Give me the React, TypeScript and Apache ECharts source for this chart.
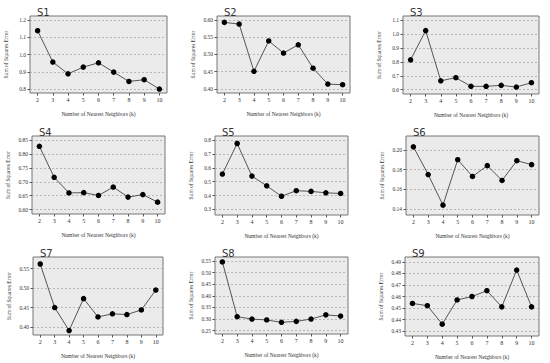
import React, { useEffect, useRef } from "react";
import * as echarts from "echarts";

const categories = ["2", "3", "4", "5", "6", "7", "8", "9", "10"];

const titles = ["S1", "S2", "S3", "S4", "S5", "S6", "S7", "S8", "S9"];

const s1 = [1.138, 0.956, 0.888, 0.927, 0.952, 0.898, 0.844, 0.854, 0.8];
const s2 = [0.593, 0.588, 0.451, 0.539, 0.504, 0.528, 0.46, 0.414, 0.412];
const s3 = [0.814, 1.024, 0.664, 0.686, 0.624, 0.624, 0.631, 0.619, 0.65];
const s4 = [0.827, 0.716, 0.66, 0.661, 0.651, 0.681, 0.645, 0.654, 0.627];
const s5 = [0.555, 0.775, 0.54, 0.47, 0.395, 0.435, 0.43, 0.42, 0.415];
const s6 = [0.203, 0.175, 0.144, 0.19, 0.173, 0.184, 0.169, 0.189, 0.185];
const s7 = [0.562, 0.45, 0.391, 0.473, 0.426, 0.434, 0.432, 0.444, 0.495];
const s8 = [0.546, 0.31, 0.3, 0.296, 0.286, 0.29, 0.3, 0.318, 0.313];
const s9 = [0.454, 0.452, 0.436, 0.457, 0.46, 0.465, 0.451, 0.483, 0.451];

const yTicks1 = [0.8, 0.9, 1.0, 1.1, 1.2];
const yTicks2 = [0.4, 0.45, 0.5, 0.55, 0.6];
const yTicks3 = [0.6, 0.7, 0.8, 0.9, 1.0, 1.1];
const yTicks4 = [0.6, 0.65, 0.7, 0.75, 0.8, 0.85];
const yTicks5 = [0.3, 0.4, 0.5, 0.6, 0.7, 0.8];
const yTicks6 = [0.14, 0.16, 0.18, 0.2];
const yTicks7 = [0.4, 0.45, 0.5, 0.55];
const yTicks8 = [0.25, 0.3, 0.35, 0.4, 0.45, 0.5, 0.55];
const yTicks9 = [0.43, 0.44, 0.45, 0.46, 0.47, 0.48, 0.49];

const yMin = [0.777, 0.388, 0.569, 0.5845, 0.26, 0.134, 0.3795, 0.2356, 0.4257];
const yMax = [1.223, 0.6115, 1.129, 0.864, 0.829, 0.214, 0.58, 0.5673, 0.4943];
const yDecimals = [1, 2, 1, 2, 1, 2, 2, 2, 2];

const seriesData = [s1, s2, s3, s4, s5, s6, s7, s8, s9];
const yTicks = [yTicks1, yTicks2, yTicks3, yTicks4, yTicks5, yTicks6, yTicks7, yTicks8, yTicks9];

// layout (pixels)
const grids = [
  { left: 30, top: 16, width: 137, height: 77 },
  { left: 217, top: 16, width: 133, height: 77 },
  { left: 403, top: 16, width: 136, height: 78 },
  { left: 32, top: 136, width: 133, height: 78 },
  { left: 215, top: 136, width: 133, height: 79 },
  { left: 406, top: 136, width: 133, height: 79 },
  { left: 33, top: 257, width: 130, height: 78 },
  { left: 215, top: 257, width: 133, height: 77 },
  { left: 405, top: 257, width: 134, height: 79 },
];

const serif = "Liberation Serif";
const textColor = "#333";

export default function App() {
  const ref = useRef<HTMLDivElement>(null);
  useEffect(() => {
    document.body.style.margin = "0";
    const chart = echarts.init(ref.current!, null, { renderer: "svg" });
    const option: any = {
      animation: false,
      backgroundColor: "#ffffff",
      title: grids.map((g, i) => ({
        text: titles[i],
        left: g.left + 2,
        top: g.top - 14,
        textStyle: { fontFamily: "DejaVu Sans", fontSize: 10, fontWeight: "normal", color: "#333" },
      })),
      grid: grids.map((g) => ({
        ...g,
        show: true,
        backgroundColor: "#ebebeb",
        borderColor: "#777",
        borderWidth: 1,
        containLabel: false,
      })),
      xAxis: grids.map((_, i) => ({
        type: "category",
        gridIndex: i,
        data: categories,
        boundaryGap: true,
        name: "Number of Nearest Neighbors (k)",
        nameLocation: "middle",
        nameGap: 18,
        nameTextStyle: { fontFamily: serif, fontSize: 5.5, color: textColor },
        axisLine: { show: false },
        axisTick: { show: true, alignWithLabel: true, length: 2.5, lineStyle: { color: "#555" } },
        axisLabel: { fontFamily: serif, fontSize: 6, color: textColor, margin: 4 },
        splitLine: { show: false },
      })),
      yAxis: grids.map((_, i) => ({
        type: "value",
        gridIndex: i,
        min: yMin[i],
        max: yMax[i],
        name: "Sum of Squares Error",
        nameLocation: "middle",
        nameGap: 21,
        nameRotate: 90,
        nameTextStyle: { fontFamily: serif, fontSize: 5.5, color: textColor },
        axisLine: { show: false },
        axisTick: { show: true, length: 2.5, customValues: yTicks[i], lineStyle: { color: "#555" } },
        axisLabel: {
          fontFamily: serif,
          fontSize: 5.5,
          color: textColor,
          margin: 4,
          customValues: yTicks[i],
          formatter: (v: number) => v.toFixed(yDecimals[i]),
        },
        splitLine: { show: true, lineStyle: { color: "#aaaaaa", type: [2, 2], width: 0.8 } },
      })),
      series: seriesData.map((d, i) => ({
        type: "line",
        xAxisIndex: i,
        yAxisIndex: i,
        data: d,
        symbol: "circle",
        symbolSize: 5.5,
        itemStyle: { color: "#000" },
        lineStyle: { color: "#555", width: 1 },
      })),
    };
    chart.setOption(option);
    return () => chart.dispose();
  }, []);
  return <div ref={ref} style={{ width: 550, height: 363 }} />;
}
